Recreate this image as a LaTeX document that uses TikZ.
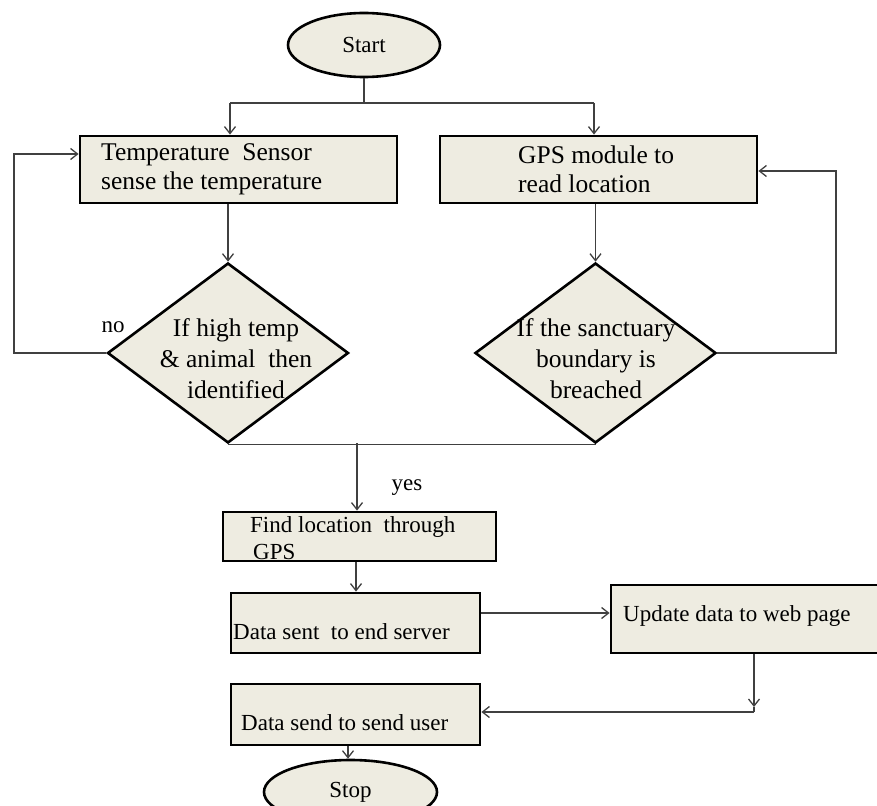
\documentclass[tikz,border=0pt]{standalone}
\usepackage{fontspec}
\setmainfont{Liberation Serif}
\usetikzlibrary{shapes.geometric,arrows.meta}
\definecolor{boxfill}{HTML}{EEECE1}
\definecolor{linecol}{HTML}{404040}
\begin{document}
\begin{tikzpicture}[x=1pt,y=-1pt,
  box/.style={draw=black, line width=2.8pt, fill=boxfill, rectangle, inner sep=0pt},
  term/.style={draw=black, line width=2.6pt, fill=boxfill, ellipse, inner sep=0pt, font=\fontsize{23}{27}\selectfont},
  dec/.style={draw=black, line width=2.6pt, fill=boxfill, diamond, inner sep=0pt},
  txt/.style={font=\fontsize{23}{29}\selectfont, inner sep=0pt, align=left},
  btxt/.style={font=\fontsize{25.5}{29}\selectfont, inner sep=0pt, align=left},
  dtxt/.style={font=\fontsize{25.5}{31}\selectfont, inner sep=0pt, align=center},
  arr/.style={draw=linecol, line width=1.3pt, -{Straight Barb[length=7pt,width=11pt]}},
  ln/.style={draw=linecol, line width=1.3pt}]
\useasboundingbox (0,0) rectangle (877,805);

% nodes
\node[term, minimum width=152pt, minimum height=64pt] (start) at (364,45) {Start};
\node[box, minimum width=317pt, minimum height=67pt] (temp) at (238.5,169.5) {};
\node[box, minimum width=317pt, minimum height=67pt] (gps) at (598.5,169.5) {};
\node[btxt, anchor=west] (ttemp) at (101,169) {Temperature\ \ Sensor\\sense the temperature};
\node[btxt, anchor=west] (tgps) at (518,169) {GPS module to\\read location};

\node[dec, minimum width=241pt, minimum height=180pt] (dl) at (228,353) {};
\node[dec, minimum width=241pt, minimum height=180pt] (dr) at (595.5,353) {};
\node[dtxt] (tdl) at (236,359) {If high temp\\\&\ animal\ \ then\\identified};
\node[dtxt] (tdr) at (596,359) {If the sanctuary\\boundary is\\breached};

\node[box, minimum width=273pt, minimum height=49pt] (find) at (359.5,536.5) {};
\node[txt, anchor=west, font=\fontsize{23}{27}\selectfont] (tfind) at (250,538.5) {Find location\ \ through\\\hspace*{3pt}GPS};

\node[box, minimum width=249pt, minimum height=60pt] (sent) at (355.5,623) {};
\node[txt, anchor=west] (tsent) at (233,632) {Data sent\ \ to end server};

\node[box, minimum width=279pt, minimum height=68pt] (update) at (750.5,619) {};
\node[txt, anchor=west] (tupdate) at (623,616) {Update data to web page};

\node[box, minimum width=249pt, minimum height=61pt] (send) at (355.5,714.5) {};
\node[txt, anchor=west] (tsend) at (241,723) {Data send to send user};

\node[term, minimum width=173pt, minimum height=64pt] (stop) at (350.5,792) {Stop};

\node[txt] (yes) at (407,488) {yes};
\node[txt] (no) at (113,327) {no};

% connectors
\coordinate (fork) at (364,103);
\coordinate (fl) at (230,103);
\coordinate (fr) at (594,103);
\draw[ln] (start.south) -- (fork);
\draw[ln] (fl) -- (fr);
\draw[arr] (fl) -- (fl |- temp.north);
\draw[arr] (fr) -- (fr |- gps.north);
\draw[arr] (temp.south -| dl.north) -- (dl.north);
\draw[arr] (gps.south -| dr.north) -- (dr.north);

\coordinate (lk) at (14,154);
\draw[arr] (dl.west) -- (dl.west -| lk) -- (lk) -- (lk -| temp.west);
\coordinate (rk) at (836,171);
\draw[arr] (dr.east) -- (dr.east -| rk) -- (rk) -- (rk -| gps.east);

\draw[ln] (dl.south) -- (dr.south);
\coordinate (m) at (357,443);
\draw[arr] (m) -- (m |- find.north);
\coordinate (fs) at (356,561);
\draw[arr] (find.south -| fs) -- (sent.north -| fs);
\coordinate (su) at (480,613);
\draw[arr] (sent.east |- su) -- (update.west |- su);
\coordinate (ud) at (754,707);
\draw[arr] (update.south -| ud) -- (ud);
\coordinate (uh) at (754,712);
\draw[ln] (ud) -- (uh);
\draw[arr] (uh) -- (uh -| send.east);
\coordinate (ss) at (348,745);
\draw[arr] (send.south -| ss) -- (stop.north -| ss);
\end{tikzpicture}
\end{document}
